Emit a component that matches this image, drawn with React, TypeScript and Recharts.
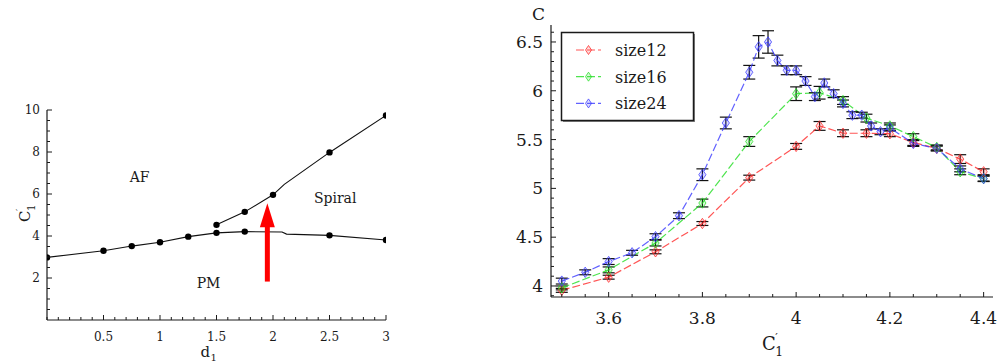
import React from "react";
import { ComposedChart, Line, XAxis, YAxis, ErrorBar, ReferenceLine, ReferenceDot } from "recharts";

const SERIF = "'DejaVu Serif', 'Liberation Serif', serif";
const INK = "#1a1a1a";

// left panel: phase boundaries in the (d1, C'1) plane
const boundaryD = [0, 0.5, 0.75, 1, 1.25, 1.5, 1.75, 2.08, 2.12, 2.5, 3];
const pmBoundary = [2.98, 3.3, 3.52, 3.7, 3.97, 4.15, 4.21, 4.19, 4.09, 4.03, 3.81];
const pmMarked = [1, 1, 1, 1, 1, 1, 1, 0, 0, 1, 1];
const spiralD = [1.5, 1.75, 2, 2.1, 2.5, 3];
const spiralBoundary = [4.53, 5.15, 5.96, 6.46, 7.98, 9.74];
const spiralMarked = [1, 1, 1, 0, 1, 1];
const phaseXMajor = [0.5, 1, 1.5, 2, 2.5, 3];
const phaseYMajor = [2, 4, 6, 8, 10];
const regionNames = ["AF", "Spiral", "PM"];
const regionD = [0.82, 2.55, 1.43];
const regionC = [6.82, 5.8, 1.78];
const arrowD = 1.95;
const arrowFrom = 1.83;
const arrowNeck = 4.5;
const arrowTip = 5.56;

// right panel: specific heat C vs C'1 for three lattice sizes
const size12X = [3.5, 3.6, 3.7, 3.8, 3.9, 4.0, 4.05, 4.1, 4.15, 4.2, 4.25, 4.3, 4.35, 4.4];
const size12C = [3.955, 4.09, 4.35, 4.64, 5.11, 5.43, 5.64, 5.565, 5.565, 5.56, 5.47, 5.41, 5.3, 5.17];
const size12Err = [0.02, 0.02, 0.02, 0.02, 0.025, 0.03, 0.045, 0.035, 0.035, 0.03, 0.03, 0.025, 0.045, 0.03];

const size16X = [3.5, 3.6, 3.7, 3.8, 3.9, 4.0, 4.05, 4.1, 4.15, 4.2, 4.25, 4.3, 4.35, 4.4];
const size16C = [3.98, 4.165, 4.44, 4.85, 5.48, 5.97, 5.98, 5.9, 5.72, 5.64, 5.53, 5.42, 5.17, 5.1];
const size16Err = [0.02, 0.03, 0.03, 0.04, 0.05, 0.07, 0.065, 0.04, 0.04, 0.03, 0.03, 0.025, 0.03, 0.025];

const size24X = [3.5, 3.55, 3.6, 3.65, 3.7, 3.75, 3.8, 3.85, 3.9, 3.92, 3.94, 3.96, 3.98, 4.0, 4.02, 4.04, 4.06, 4.08, 4.1, 4.12, 4.14, 4.16, 4.18, 4.2, 4.25, 4.3, 4.35, 4.4];
const size24C = [4.05, 4.14, 4.25, 4.34, 4.505, 4.72, 5.14, 5.67, 6.19, 6.45, 6.5, 6.31, 6.21, 6.21, 6.1, 5.94, 6.08, 5.97, 5.87, 5.75, 5.75, 5.64, 5.58, 5.62, 5.46, 5.41, 5.2, 5.1];
const size24Err = [0.03, 0.025, 0.03, 0.025, 0.03, 0.03, 0.06, 0.06, 0.07, 0.115, 0.115, 0.055, 0.045, 0.045, 0.045, 0.04, 0.04, 0.04, 0.035, 0.035, 0.03, 0.03, 0.03, 0.03, 0.03, 0.025, 0.03, 0.03];

const heatXMajor = [3.6, 3.8, 4, 4.2, 4.4];
const heatYMajor = [4, 4.5, 5, 5.5, 6, 6.5];

function steps(from: number, to: number, step: number) {
  const out: number[] = [];
  for (let v = from; v <= to + 1e-9; v += step) out.push(Math.round(v * 1000) / 1000);
  return out;
}

const build = (xs: number[], cs: number[], errs?: number[]) =>
  xs.map((x, i) => ({ x, c: cs[i], err: errs ? errs[i] : 0 }));

const series = [
  { name: "size12", color: "#ff2a2a", data: build(size12X, size12C, size12Err) },
  { name: "size16", color: "#22dd22", data: build(size16X, size16C, size16Err) },
  { name: "size24", color: "#3a3aff", data: build(size24X, size24C, size24Err) },
];

type Side = "bottom" | "top" | "left" | "right";

function frameTick(side: Side, majors: number[], cfg: { label?: boolean; size?: number; gap?: number; major: number; minor: number }) {
  return (props: any) => {
    const { x, y, payload } = props;
    const v = payload.value;
    const isMajor = majors.some((m) => Math.abs(m - v) < 1e-6);
    const len = isMajor ? cfg.major : cfg.minor;
    const dx = side === "left" ? len : side === "right" ? -len : 0;
    const dy = side === "bottom" ? -len : side === "top" ? len : 0;
    let text = null;
    if (cfg.label && isMajor) {
      const fs = cfg.size || 12;
      if (side === "bottom")
        text = (
          <text x={x} y={y + (cfg.gap || 0)} textAnchor="middle" fontFamily={SERIF} fontSize={fs} fill={INK}>
            {v}
          </text>
        );
      else if (side === "left")
        text = (
          <text x={x - (cfg.gap || 0)} y={y + fs * 0.36} textAnchor="end" fontFamily={SERIF} fontSize={fs} fill={INK}>
            {v}
          </text>
        );
    }
    return (
      <g>
        <line x1={x} y1={y} x2={x + dx} y2={y + dy} stroke={INK} strokeWidth={1} />
        {text}
      </g>
    );
  };
}

// C with a prime over a subscript 1
function PrimedC({ x, y, size }: { x: number; y: number; size: number }) {
  const w = size * 0.74;
  return (
    <g fontFamily={SERIF} fill={INK}>
      <text x={x} y={y} fontSize={size}>C</text>
      <text x={x + w} y={y - size * 0.5} fontSize={size * 0.62}>′</text>
      <text x={x + w} y={y + size * 0.36} fontSize={size * 0.68}>1</text>
    </g>
  );
}

const markedDot = (marks: number[]) => (p: any) =>
  marks[p.index] ? (
    <circle key={`m-${p.index}`} cx={p.cx} cy={p.cy} r={3.2} fill="#000" />
  ) : (
    <g key={`m-${p.index}`} />
  );

function PhaseDiagram() {
  const pmData = build(boundaryD, pmBoundary);
  const spiralData = build(spiralD, spiralBoundary);
  const xTicks = steps(0, 3, 0.1);
  const yTicks = steps(0.5, 10, 0.5);
  return (
    <ComposedChart width={400} height={364} margin={{ top: 110, right: 14, bottom: 0, left: 7 }}>
      <XAxis
        xAxisId={0}
        type="number"
        dataKey="x"
        domain={[0, 3]}
        allowDataOverflow
        ticks={xTicks}
        interval={0}
        height={44}
        tickSize={0}
        tickMargin={0}
        axisLine={{ stroke: INK, strokeWidth: 1.2 }}
        tickLine={false}
        tick={frameTick("bottom", phaseXMajor, { label: true, size: 12, gap: 21, major: 5, minor: 3 })}
        label={(p: any) => {
          const vb = p.viewBox;
          const x0 = vb.x + vb.width / 2 - 16;
          const y0 = vb.y + 36.5;
          return (
            <g fontFamily={SERIF} fill={INK}>
              <text x={x0} y={y0} fontSize={15}>d</text>
              <text x={x0 + 10} y={y0 + 4} fontSize={10}>1</text>
            </g>
          );
        }}
      />
      <XAxis
        xAxisId="top"
        orientation="top"
        type="number"
        domain={[0, 3]}
        allowDataOverflow
        ticks={xTicks}
        interval={0}
        height={0}
        tickSize={0}
        tickMargin={0}
        axisLine={{ stroke: INK, strokeWidth: 1.2 }}
        tickLine={false}
        tick={frameTick("top", phaseXMajor, { major: 5, minor: 3 })}
      />
      <YAxis
        yAxisId={0}
        type="number"
        domain={[0, 10]}
        allowDataOverflow
        ticks={yTicks}
        interval={0}
        width={40}
        tickSize={0}
        tickMargin={0}
        axisLine={{ stroke: INK, strokeWidth: 1.2 }}
        tickLine={false}
        tick={frameTick("left", phaseYMajor, { label: true, size: 12, gap: 7, major: 5, minor: 3 })}
        label={(p: any) => {
          const vb = p.viewBox;
          return (
            <g transform={`translate(${vb.x + 23}, ${vb.y + 112}) rotate(-90)`}>
              <PrimedC x={0} y={0} size={15} />
            </g>
          );
        }}
      />
      <YAxis
        yAxisId="right"
        orientation="right"
        type="number"
        domain={[0, 10]}
        allowDataOverflow
        ticks={yTicks}
        interval={0}
        width={0}
        tickSize={0}
        tickMargin={0}
        axisLine={{ stroke: INK, strokeWidth: 1.2 }}
        tickLine={false}
        tick={frameTick("right", phaseYMajor, { major: 5, minor: 3 })}
      />
      <Line data={pmData} dataKey="c" stroke="#111" strokeWidth={1.1} dot={markedDot(pmMarked)} isAnimationActive={false} />
      <Line data={spiralData} dataKey="c" stroke="#111" strokeWidth={1.1} dot={markedDot(spiralMarked)} isAnimationActive={false} />
      <ReferenceLine
        segment={[
          { x: arrowD, y: arrowFrom },
          { x: arrowD, y: arrowNeck },
        ]}
        stroke="#ff0000"
        strokeWidth={5}
      />
      <ReferenceDot
        x={arrowD}
        y={arrowTip}
        r={0}
        shape={(p: any) => (
          <polygon points={`${p.cx},${p.cy} ${p.cx - 7.5},${p.cy + 24} ${p.cx + 7.5},${p.cy + 24}`} fill="#ff0000" />
        )}
      />
      {regionNames.map((name, i) => (
        <ReferenceDot
          key={name}
          x={regionD[i]}
          y={regionC[i]}
          r={0}
          shape={(p: any) => (
            <text x={p.cx} y={p.cy + 5} textAnchor="middle" fontFamily={SERIF} fontSize={14} fill={INK}>
              {name}
            </text>
          )}
        />
      ))}
    </ComposedChart>
  );
}

function Diamond({ cx, cy, color, w = 3.6, h = 5.2 }: { cx: number; cy: number; color: string; w?: number; h?: number }) {
  return (
    <path
      d={`M${cx} ${cy - h} L${cx + w} ${cy} L${cx} ${cy + h} L${cx - w} ${cy} Z`}
      fill={color}
      fillOpacity={0.18}
      stroke={color}
      strokeOpacity={0.75}
      strokeWidth={1}
    />
  );
}

function HeatChart() {
  const xTicks = steps(3.5, 4.4, 0.05);
  const yTicks = steps(3.9, 6.6, 0.1);
  const xDomain = [3.477, 4.42];
  const yDomain = [3.887, 6.674];
  return (
    <ComposedChart width={498} height={364} margin={{ top: 25, right: 5, bottom: 0, left: 0 }}>
      <XAxis
        xAxisId={0}
        type="number"
        dataKey="x"
        domain={xDomain}
        allowDataOverflow
        ticks={xTicks}
        interval={0}
        height={67}
        tickSize={0}
        tickMargin={0}
        axisLine={{ stroke: INK, strokeWidth: 1.2 }}
        tickLine={false}
        tick={frameTick("bottom", heatXMajor, { label: true, size: 17, gap: 26.5, major: 5, minor: 3 })}
        label={(p: any) => {
          const vb = p.viewBox;
          return <PrimedC x={vb.x + vb.width / 2 - 10} y={vb.y + 53} size={18} />;
        }}
      />
      <XAxis
        xAxisId="top"
        orientation="top"
        type="number"
        domain={xDomain}
        allowDataOverflow
        ticks={xTicks}
        interval={0}
        height={0}
        tickSize={0}
        tickMargin={0}
        axisLine={{ stroke: INK, strokeWidth: 1.2 }}
        tickLine={false}
        tick={frameTick("top", heatXMajor, { major: 5, minor: 3 })}
      />
      <YAxis
        yAxisId={0}
        type="number"
        domain={yDomain}
        allowDataOverflow
        ticks={yTicks}
        interval={0}
        width={51}
        tickSize={0}
        tickMargin={0}
        axisLine={{ stroke: INK, strokeWidth: 1.2 }}
        tickLine={false}
        tick={frameTick("left", heatYMajor, { label: true, size: 17, gap: 8, major: 5, minor: 3 })}
        label={(p: any) => {
          const vb = p.viewBox;
          return (
            <text x={vb.x + 32} y={vb.y - 5} fontFamily={SERIF} fontSize={17} fill={INK}>
              C
            </text>
          );
        }}
      />
      <YAxis
        yAxisId="right"
        orientation="right"
        type="number"
        domain={yDomain}
        allowDataOverflow
        ticks={yTicks}
        interval={0}
        width={0}
        tickSize={0}
        tickMargin={0}
        axisLine={{ stroke: INK, strokeWidth: 1.2 }}
        tickLine={false}
        tick={frameTick("right", heatYMajor, { major: 5, minor: 3 })}
      />
      {series.map((s) => (
        <Line
          key={s.name}
          data={s.data}
          dataKey="c"
          name={s.name}
          stroke={s.color}
          strokeOpacity={0.8}
          strokeWidth={1.2}
          strokeDasharray="8 3"
          isAnimationActive={false}
          dot={(p: any) => <Diamond key={`${s.name}-${p.index}`} cx={p.cx} cy={p.cy} color={s.color} />}
        >
          <ErrorBar dataKey="err" direction="y" width={6} stroke="#111" strokeWidth={1.2} />
        </Line>
      ))}
    </ComposedChart>
  );
}

function SeriesLegend() {
  return (
    <svg width={998} height={364} style={{ position: "absolute", left: 0, top: 0, pointerEvents: "none" }}>
      <rect x={563} y={34} width={132} height={88} fill="#888" />
      <rect x={561.5} y={32.5} width={132} height={88} fill="#fff" stroke={INK} strokeWidth={1.5} />
      {series.map((s, i) => {
        const cy = 50 + i * 26.7;
        return (
          <g key={s.name}>
            <line x1={576} x2={601} y1={cy} y2={cy} stroke={s.color} strokeOpacity={0.8} strokeWidth={1.2} strokeDasharray="8 3" />
            <Diamond cx={588.5} cy={cy} color={s.color} w={3} h={4.5} />
            <text x={615} y={cy + 6} fontFamily={SERIF} fontSize={16} fill={INK}>
              {s.name}
            </text>
          </g>
        );
      })}
    </svg>
  );
}

export default function App() {
  return (
    <div style={{ position: "absolute", left: 0, top: 0, width: 998, height: 364, background: "#fff" }}>
      <div style={{ position: "absolute", left: 0, top: 0 }}>
        <PhaseDiagram />
      </div>
      <div style={{ position: "absolute", left: 500, top: 0 }}>
        <HeatChart />
      </div>
      <SeriesLegend />
    </div>
  );
}
